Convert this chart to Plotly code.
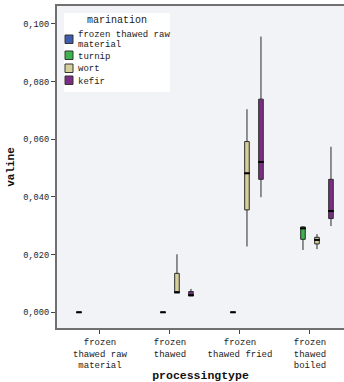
import plotly.graph_objects as go

categories = ["frozen<br>thawed raw<br>material", "frozen<br>thawed", "frozen<br>thawed fried", "frozen<br>thawed<br>boiled"]
series = ["frozen thawed raw<br>material", "turnip", "wort", "kefir"]
colors = ["#3F5DAE", "#3DB34E", "#D5D09B", "#7D2C86"]

# per series: values per category (None = no data); stats = min, q1, median, q3, max
raw_stats = [[0, 0, 0, 0, 0], None, None, None]
turnip_stats = [None, [0, 0, 0, 0, 0], [0, 0, 0, 0, 0], [0.0216, 0.0253, 0.0291, 0.0296, 0.0298]]
wort_stats = [None, [0.0068, 0.0068, 0.0069, 0.0135, 0.0201], [0.0228, 0.0355, 0.0482, 0.0592, 0.0704],
              [0.0219, 0.0237, 0.0251, 0.0260, 0.0271]]
kefir_stats = [None, [0.0057, 0.0057, 0.0059, 0.0072, 0.0081], [0.0399, 0.0461, 0.0521, 0.0739, 0.0956],
               [0.0299, 0.0325, 0.0351, 0.0461, 0.0574]]
all_stats = [raw_stats, turnip_stats, wort_stats, kefir_stats]

y_ticks = [0, 0.02, 0.04, 0.06, 0.08, 0.10]

offsets = [-0.3, -0.1, 0.1, 0.3]
box_w = 0.065
FONT = "Liberation Mono"

W, H = 344, 382
ML, MR, MT, MB = 57, 0, 6, 54
PW, PH = W - ML - MR, H - MT - MB

fig = go.Figure()
for s, (name, col, stats) in enumerate(zip(series, colors, all_stats)):
    xs, lo, q1, med, q3, hi = [], [], [], [], [], []
    for ci, st in enumerate(stats):
        if st is None:
            continue
        xs.append(ci + offsets[s])
        lo.append(st[0]); q1.append(st[1]); med.append(st[2]); q3.append(st[3]); hi.append(st[4])
    fig.add_trace(go.Box(
        name=name, x=xs, q1=q1, median=med, q3=q3, lowerfence=lo, upperfence=hi,
        width=box_w, whiskerwidth=0, fillcolor=col,
        line=dict(color="#2a2a2a", width=1), showlegend=False,
        hoverinfo="skip",
    ))
    fig.add_trace(go.Scatter(
        x=xs, y=med, mode="markers", showlegend=False, hoverinfo="skip",
        marker=dict(symbol="line-ew", size=4, color="black", line=dict(color="black", width=2)),
    ))


# manual compact legend (paper coordinates derived from pixel layout)
def px(xp):
    return (xp - ML) / PW


def py(yp):
    return (H - MB - yp) / PH


shapes = [dict(type="rect", xref="paper", yref="paper", x0=px(64), x1=px(170), y0=py(92), y1=py(13),
               fillcolor="white", line=dict(width=0), layer="above")]
annotations = [dict(text="marination", xref="paper", yref="paper", x=px(117), y=py(20.5),
                    showarrow=False, xanchor="center", yanchor="middle",
                    font=dict(family=FONT, size=10, color="#222"))]
sw_top = [35, 51, 64, 76]
txt_y = [35.5, 57, 69.5, 81.5]
line_gap = 9.5
for i, (name, col) in enumerate(zip(series, colors)):
    shapes.append(dict(type="rect", xref="paper", yref="paper", x0=px(65), x1=px(73),
                       y0=py(sw_top[i] + 8.5), y1=py(sw_top[i]), fillcolor=col,
                       line=dict(color="#333", width=1), layer="above"))
    for j, part in enumerate(name.split("<br>")):
        annotations.append(dict(text=part, xref="paper", yref="paper", x=px(76), y=py(txt_y[i] + j * line_gap),
                                showarrow=False, xanchor="left", yanchor="middle", align="left",
                                font=dict(family=FONT, size=9, color="#222")))

fig.update_layout(
    width=W, height=H,
    margin=dict(l=ML, r=MR, t=MT, b=MB),
    paper_bgcolor="white", plot_bgcolor="#F2F3F6",
    separators=", ",
    font=dict(family=FONT, size=8.7, color="#222"),
    showlegend=False,
    shapes=shapes, annotations=annotations,
)
fig.update_xaxes(
    range=[-0.614, 3.486], tickvals=list(range(len(categories))), ticktext=categories,
    showgrid=False, zeroline=False, showline=True, linecolor="#707070", linewidth=2, mirror=True,
    ticks="outside", ticklen=4, tickcolor="#444", automargin=False,
    tickfont=dict(family=FONT, size=9, color="#222"),
    title=dict(text="<b>processingtype</b>", font=dict(family=FONT, size=11.5, color="#111"), standoff=2),
)
fig.update_yaxes(
    range=[-0.00545, 0.1062], tickvals=y_ticks, tickformat=".3f",
    showgrid=False, zeroline=False, showline=True, linecolor="#707070", linewidth=2,
    ticks="outside", ticklen=4, tickcolor="#444", automargin=False,
    tickfont=dict(family=FONT, size=8.7, color="#222"),
    title=dict(text="<b>valine</b>", font=dict(family=FONT, size=11, color="#111"), standoff=6),
)

fig.write_html("out.html", config={"displayModeBar": False},
               post_script="document.body.style.margin='0';document.body.style.overflow='hidden';")
